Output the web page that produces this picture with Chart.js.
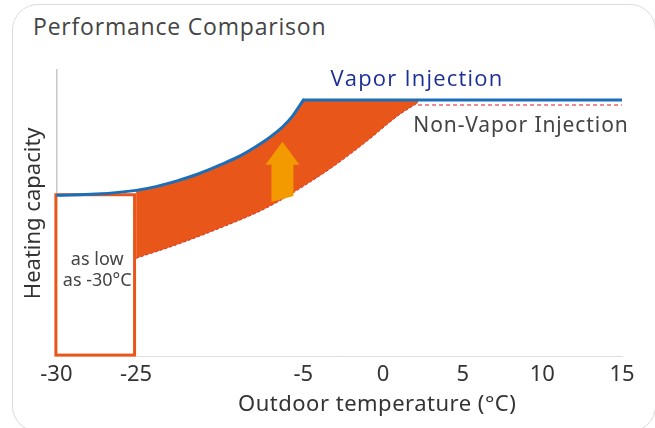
<!DOCTYPE html>
<html>
<head>
<meta charset="utf-8">
<script src="https://cdn.jsdelivr.net/npm/chart.js@4"></script>
<style>
  html, body { margin: 0; padding: 0; background: #fff; overflow: hidden; }
  .card { position: absolute; left: 12px; top: 4px; width: 642px; height: 426px; border: 1px solid #dcdcdc; border-radius: 26px; }
  .title { position: absolute; left: 33px; top: 10px; font: 23px 'Open Sans', sans-serif; letter-spacing: 0.8px; color: #444; }
  canvas { position: absolute; left: 0; top: 0; }
</style>
</head>
<body>
<div class="card"></div>
<div class="title">Performance Comparison</div>
<canvas id="perfChart" width="655" height="428"></canvas>
<script>
// axis ticks (outdoor temperature, °C)
const tickTemps = [-30, -25, -5, 0, 5, 10, 15];

// Vapor Injection: rising part, then capped
const vaporTemps = [-30, -27.5, -25, -22.5, -20, -17.5, -15, -12.5, -10, -8.75, -7.5, -6.25, -5];
const vaporCapacity = [56.3, 56.7, 58.0, 59.4, 61.4, 63.8, 66.8, 70.1, 74.5, 77.1, 80.1, 84.1, 89.5];
const vaporCapTemps = [-5, 15];
const vaporCapCapacity = [89.5, 89.5];

// Non-Vapor Injection: rising part, then capped
const nonVaporTemps = [-25, -20, -15, -10, -7.5, -5, -3, -1, 1, 2.2];
const nonVaporCapacity = [34.3, 39.2, 44.8, 51.0, 54.9, 59.4, 66.8, 75.2, 84.3, 88.6];
const nonVaporCapTemps = [2.2, 15];
const nonVaporCapCapacity = [87.8, 87.8];

// "as low as -30°C" box and the improvement arrow
const lowLimitRange = [-30, -25];
const lowLimitTop = 57;
const arrowTemp = -7.5;
const arrowRange = [55, 75];

const ORANGE = '#e9561a';
const BLUE = '#1b6fb8';

// the reference axis squeezes -25..-5 into roughly two tick slots
const tickSlots = [0, 1, 3.1, 4.1, 5.1, 6.1, 7.1];

class SegmentedScale extends Chart.LinearScale {
    toLinear(t) {
        let i = 0;
        while (i < tickTemps.length - 2 && t > tickTemps[i + 1]) i++;
        const f = (t - tickTemps[i]) / (tickTemps[i + 1] - tickTemps[i]);
        const slot = tickSlots[i] + f * (tickSlots[i + 1] - tickSlots[i]);
        const last = tickSlots[tickSlots.length - 1];
        return this.min + slot / last * (this.max - this.min);
    }
    getPixelForValue(value) {
        return super.getPixelForValue(this.toLinear(value));
    }
}
SegmentedScale.id = 'segmented';
SegmentedScale.defaults = Chart.LinearScale.defaults;
Chart.register(SegmentedScale);

const toPoints = (xs, ys) => xs.map((x, i) => ({x: x, y: ys[i]}));

const decorations = {
    id: 'decorations',
    beforeDatasetsDraw(chart) {
        const {ctx, scales: {x, y}} = chart;
        const left = x.getPixelForValue(lowLimitRange[0]);
        const right = x.getPixelForValue(lowLimitRange[1]);
        const top = y.getPixelForValue(lowLimitTop);
        const bottom = y.getPixelForValue(0);
        ctx.save();
        ctx.fillStyle = '#fff';
        ctx.strokeStyle = ORANGE;
        ctx.lineWidth = 3;
        ctx.fillRect(left, top, right - left, bottom - top);
        ctx.strokeRect(left - 0.5, top + 1.5, right - left - 1, bottom - top - 3);
        ctx.fillStyle = '#444';
        ctx.font = '18px "Noto Sans"';
        ctx.textAlign = 'center';
        ctx.textBaseline = 'middle';
        const cx = (left + right) / 2 + 1;
        ctx.fillText('as low', cx, top + 67);
        ctx.fillText('as -30°C', cx, top + 88);
        ctx.restore();
    },
    afterDatasetsDraw(chart) {
        const {ctx, scales: {x, y}} = chart;
        const cx = x.getPixelForValue(arrowTemp);
        const base = y.getPixelForValue(arrowRange[0]);
        const tip = y.getPixelForValue(arrowRange[1]);
        const headH = 23, headW = 17, shaftW = 11;
        ctx.save();
        ctx.fillStyle = '#f39a00';
        ctx.beginPath();
        ctx.moveTo(cx, tip);
        ctx.lineTo(cx + headW, tip + headH);
        ctx.lineTo(cx + shaftW, tip + headH);
        ctx.lineTo(cx + shaftW, base - 3);
        ctx.lineTo(cx - shaftW, base + 3);
        ctx.lineTo(cx - shaftW, tip + headH);
        ctx.lineTo(cx - headW, tip + headH);
        ctx.closePath();
        ctx.fill();
        ctx.restore();
    },
    afterDraw(chart) {
        const {ctx, chartArea, scales: {x, y}} = chart;
        ctx.save();
        ctx.textBaseline = 'middle';
        ctx.textAlign = 'left';
        ctx.fillStyle = '#1b2f96';
        ctx.font = '500 22px "Open Sans"';
        ctx.letterSpacing = '1.2px';
        ctx.fillText('Vapor Injection', x.getPixelForValue(-3.3), y.getPixelForValue(89.5) - 20);
        ctx.fillStyle = '#444';
        ctx.font = '21px "Noto Sans"';
        ctx.letterSpacing = '0.9px';
        ctx.fillText('Non-Vapor Injection', x.getPixelForValue(1.9), y.getPixelForValue(87.8) + 21);
        ctx.fillStyle = '#333';
        ctx.font = '22px "Noto Sans"';
        ctx.letterSpacing = '0.5px';
        ctx.textAlign = 'center';
        ctx.fillText('Outdoor temperature (°C)', (chartArea.left + chartArea.right) / 2 + 38, 405);
        ctx.restore();
    }
};

const config = {
    type: 'line',
    data: {
        datasets: [
            {
                // whole vapor envelope, only used as the upper edge of the orange band
                label: 'envelope',
                data: toPoints(vaporTemps.concat(vaporCapTemps.slice(1)), vaporCapacity.concat(vaporCapCapacity.slice(1))),
                borderColor: 'rgba(0,0,0,0)',
                borderWidth: 1,
                pointRadius: 0,
                tension: 0,
                fill: false
            },
            {
                label: 'Non-Vapor Injection',
                data: toPoints(nonVaporTemps, nonVaporCapacity),
                borderColor: '#d8322a',
                borderWidth: 1,
                borderDash: [3, 2],
                pointRadius: 0,
                cubicInterpolationMode: 'monotone',
                backgroundColor: ORANGE,
                fill: {target: 0}
            },
            {
                label: 'Non-Vapor Injection (cap)',
                data: toPoints(nonVaporCapTemps, nonVaporCapCapacity),
                borderColor: '#e4676b',
                borderWidth: 1.5,
                borderDash: [4, 3],
                pointRadius: 0,
                fill: false
            },
            {
                label: 'Vapor Injection',
                data: toPoints(vaporTemps, vaporCapacity),
                borderColor: BLUE,
                borderWidth: 3,
                borderCapStyle: 'round',
                pointRadius: 0,
                cubicInterpolationMode: 'monotone',
                fill: false
            },
            {
                label: 'Vapor Injection (cap)',
                data: toPoints(vaporCapTemps, vaporCapCapacity),
                borderColor: BLUE,
                borderWidth: 3,
                borderCapStyle: 'round',
                pointRadius: 0,
                fill: false
            }
        ]
    },
    options: {
        responsive: false,
        animation: false,
        events: [],
        layout: {
            padding: {left: 12, right: 33, top: 70, bottom: 35}
        },
        plugins: {
            legend: {display: false},
            tooltip: {enabled: false},
            filler: {drawTime: 'beforeDatasetsDraw'}
        },
        scales: {
            x: {
                type: 'segmented',
                min: -30,
                max: 15,
                afterBuildTicks: (scale) => {
                    scale.ticks = tickTemps.map(v => ({value: v}));
                },
                ticks: {
                    autoSkip: false,
                    maxRotation: 0,
                    padding: 5,
                    color: '#333',
                    font: {family: 'Noto Sans', size: 22},
                    callback: (v) => String(v)
                },
                grid: {display: false, drawTicks: false, tickLength: 0},
                border: {display: true, color: '#dedede', width: 1}
            },
            y: {
                min: 0,
                max: 100,
                ticks: {display: false},
                grid: {display: false, drawTicks: false, tickLength: 0},
                border: {display: true, color: '#c8c8c8', width: 1.5},
                title: {
                    display: true,
                    text: 'Heating capacity',
                    color: '#333',
                    font: {family: 'Noto Sans', size: 22},
                    padding: {top: 9, bottom: 9}
                }
            }
        }
    },
    plugins: [decorations]
};

new Chart(document.getElementById('perfChart').getContext('2d'), config);
</script>
</body>
</html>
